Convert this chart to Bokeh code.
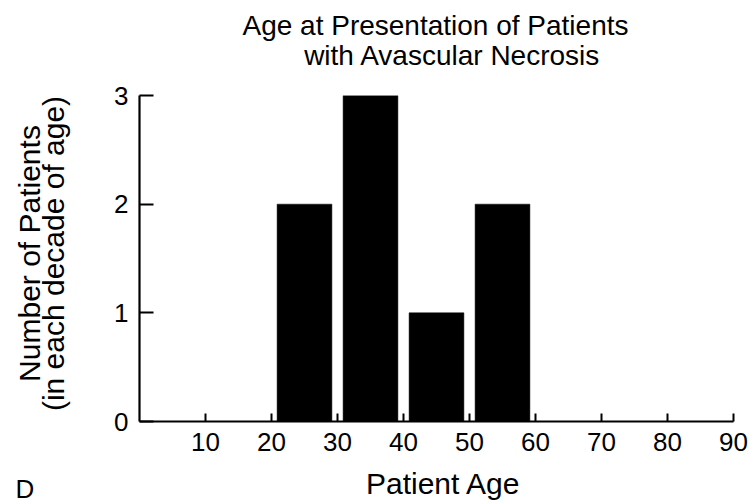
import math
from bokeh.plotting import figure
from bokeh.layouts import column, row
from bokeh.models import Label, FixedTicker, ColumnDataSource, Range1d
from bokeh.embed import file_html
from bokeh.resources import INLINE

# ---- data ----
age_bin_centers = [25, 35, 45, 55]
patient_counts = [2, 3, 1, 2]
x_ticks = [10, 20, 30, 40, 50, 60, 70, 80, 90]
y_ticks = [0, 1, 2, 3]
title_lines = ["Age at Presentation of Patients", "with Avascular Necrosis"]
y_label_lines = ["Number of Patients", "(in each decade of age)"]
x_label = "Patient Age"
panel_letter = "D"

FONT = "Liberation Sans"
TOTAL_W, TOTAL_H = 756, 504
TOP_H, BOTTOM_H, LEFT_W = 72, 40, 80
MAIN_H = TOTAL_H - TOP_H - BOTTOM_H
FRAME_TOP, FRAME_BOTTOM, FRAME_LEFT, FRAME_RIGHT = 95, 421, 139, 733


def strip(width, height, top=0, bottom=0):
    s = figure(width=width, height=height, output_backend="svg", toolbar_location=None,
               x_axis_type=None, y_axis_type=None, x_range=Range1d(0, 1), y_range=Range1d(0, 1),
               min_border=0, min_border_left=0, min_border_right=0,
               min_border_top=top, min_border_bottom=bottom)
    s.outline_line_color = None
    s.background_fill_color = "white"
    s.border_fill_color = "white"
    return s


def add_label(fig, text, x, y, size, angle=0, align="center", baseline="alphabetic"):
    fig.add_layout(Label(text=text, x=x, y=y, x_units="screen", y_units="screen",
                         angle=angle, text_align=align, text_baseline=baseline,
                         text_font=FONT, text_font_size=size, text_color="black"))


# ---- title strip ----
top = strip(TOTAL_W, TOP_H)
add_label(top, title_lines[0], 435, TOP_H - 25, "28px")
add_label(top, title_lines[1], 452, TOP_H - 55, "28px")

# ---- y-label strip (frame aligned with the chart frame) ----
left = strip(LEFT_W, MAIN_H, top=FRAME_TOP - TOP_H, bottom=(TOP_H + MAIN_H) - FRAME_BOTTOM)
add_label(left, y_label_lines[0], 29, FRAME_BOTTOM - 253, "30px",
          angle=math.pi / 2, baseline="middle")
add_label(left, y_label_lines[1], 53, FRAME_BOTTOM - 253, "30px",
          angle=math.pi / 2, baseline="middle")

# ---- main chart ----
p = figure(width=TOTAL_W - LEFT_W, height=MAIN_H, output_backend="svg", toolbar_location=None,
           x_range=Range1d(0, 90), y_range=Range1d(0, 3),
           min_border_left=FRAME_LEFT - LEFT_W, min_border_right=TOTAL_W - FRAME_RIGHT,
           min_border_top=FRAME_TOP - TOP_H, min_border_bottom=(TOP_H + MAIN_H) - FRAME_BOTTOM)
p.outline_line_color = None
p.grid.visible = False
p.background_fill_color = "white"
p.border_fill_color = "white"

src = ColumnDataSource(dict(x=age_bin_centers, top=patient_counts))
p.vbar(x="x", top="top", bottom=0, width=8.3, source=src,
       fill_color="black", line_color="black", line_width=0.5)

for ax, ticks, tin in ((p.xaxis[0], x_ticks, 8), (p.yaxis[0], y_ticks, 14)):
    ax.ticker = FixedTicker(ticks=ticks)
    ax.axis_line_width = 2.2
    ax.axis_line_color = "black"
    ax.major_tick_line_width = 2
    ax.major_tick_line_color = "black"
    ax.major_tick_in = tin
    ax.major_tick_out = 0
    ax.minor_tick_line_color = None
    ax.major_label_text_font = FONT
    ax.major_label_text_font_size = "26px"
    ax.major_label_text_color = "black"

p.xaxis[0].major_label_standoff = 11
p.yaxis[0].major_label_standoff = 11

# ---- bottom strip ----
bottom = strip(TOTAL_W, BOTTOM_H)
add_label(bottom, x_label, 443, TOTAL_H - 482.5, "30px")
add_label(bottom, panel_letter, 15, TOTAL_H - 488, "26px", align="left")

layout = column(top, row(left, p, spacing=0), bottom, spacing=0)

open("out.html", "w").write(file_html(layout, INLINE))
